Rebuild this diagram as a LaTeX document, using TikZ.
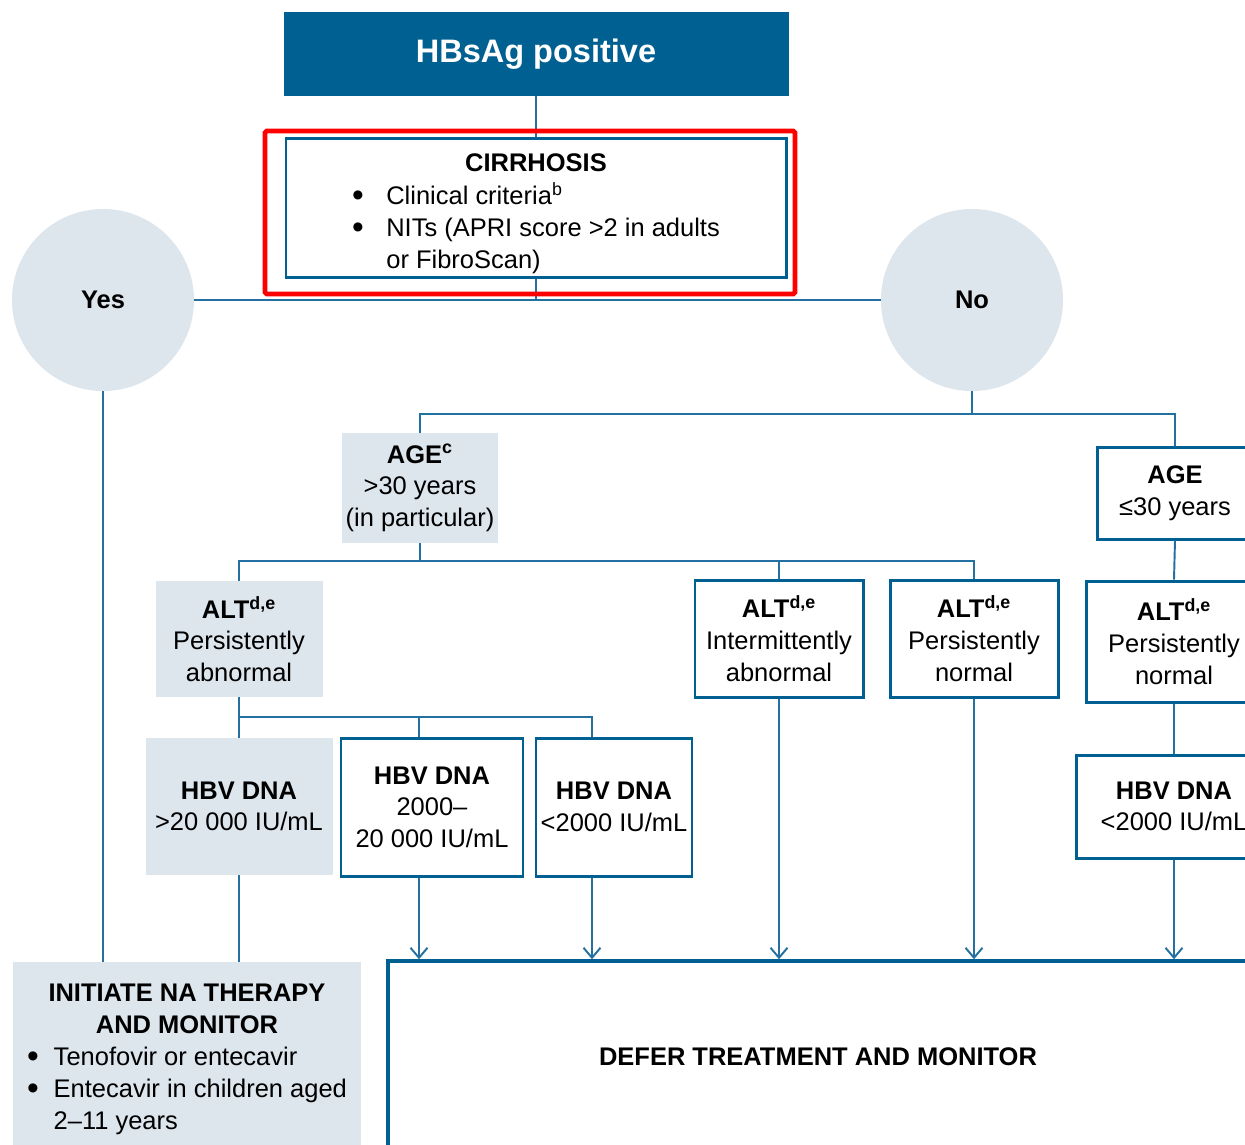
\documentclass[tikz,border=0pt]{standalone}
\usepackage{fontspec}
\setmainfont{Liberation Sans}
\usetikzlibrary{arrows.meta}
\definecolor{whoblue}{RGB}{0,96,145}
\definecolor{whoshade}{RGB}{221,229,237}
\definecolor{wholine}{RGB}{36,112,160}
\newcommand{\bigbul}{\raisebox{-1pt}{\fontsize{19}{18}\selectfont\textbullet}}

\begin{document}
\begin{tikzpicture}[font=\fontsize{14.5}{18}\selectfont]
    % Define styles
    \tikzset{
        headbox/.style={rectangle, fill=whoblue, text=white, font=\fontsize{18.5}{22}\selectfont\bfseries, minimum width=10.1cm, minimum height=1.68cm},
        shadebox/.style={rectangle, fill=whoshade, align=center, inner sep=0pt},
        framebox/.style={rectangle, draw=whoblue, line width=1.7pt, fill=white, align=center, inner sep=0pt},
        answer/.style={circle, fill=whoshade, minimum size=3.64cm, font=\fontsize{14.5}{18}\selectfont\bfseries},
        link/.style={draw=wholine, line width=1.1pt},
        arrow/.style={link, -{Straight Barb[length=0.2cm, width=0.34cm]}},
    }

    \fill[white] (0,0) rectangle (24.9,-22.88);
    \useasboundingbox (0,0) rectangle (24.9,-22.88);

    % Top
    \node[headbox] (hbsag) at (10.72,-1.08) {HBsAg positive};
    \node[framebox, minimum width=10cm, minimum height=2.72cm] (cirr) at (10.72,-4.16) {\rule{0pt}{19pt}\textbf{CIRRHOSIS}\\[5pt]
        \begin{tabular}{@{}l@{\hspace{0.45cm}}l@{}}
        \bigbul & Clinical criteria\textsuperscript{b}\\
        \bigbul & NITs (APRI score >2 in adults\\
                & or FibroScan)
        \end{tabular}};

    % Yes / No
    \node[answer] (yes) at (2.06,-6.0) {Yes};
    \node[answer] (no) at (19.44,-6.0) {No};

    % Age
    \node[shadebox, minimum width=3.12cm, minimum height=2.2cm] (age1) at (8.4,-9.76) {\textbf{AGE\textsuperscript{c}}\\>30 years\\(in particular)};
    \node[framebox, minimum width=3.12cm, minimum height=1.84cm] (age2) at (23.5,-9.86) {\textbf{AGE}\\≤30 years};

    % ALT
    \node[shadebox, minimum width=3.34cm, minimum height=2.32cm] (alt1) at (4.78,-12.78) {\textbf{ALT\textsuperscript{d,e}}\\Persistently\\abnormal};
    \node[framebox, minimum width=3.36cm, minimum height=2.34cm] (alt2) at (15.58,-12.77) {\textbf{ALT\textsuperscript{d,e}}\\Intermittently\\abnormal};
    \node[framebox, minimum width=3.36cm, minimum height=2.34cm] (alt3) at (19.48,-12.77) {\textbf{ALT\textsuperscript{d,e}}\\Persistently\\normal};
    \node[framebox, minimum width=3.52cm, minimum height=2.42cm] (alt4) at (23.48,-12.83) {\textbf{ALT\textsuperscript{d,e}}\\Persistently\\normal};

    % HBV DNA
    \node[shadebox, minimum width=3.74cm, minimum height=2.74cm] (hbv1) at (4.78,-16.13) {\textbf{HBV DNA}\\>20 000 IU/mL};
    \node[framebox, minimum width=3.64cm, minimum height=2.76cm] (hbv2) at (8.64,-16.14) {\textbf{HBV DNA}\\2000–\\20 000 IU/mL};
    \node[framebox, minimum width=3.12cm, minimum height=2.76cm] (hbv3) at (12.28,-16.14) {\textbf{HBV DNA}\\<2000 IU/mL};
    \node[framebox, minimum width=3.92cm, minimum height=2.06cm] (hbv4) at (23.48,-16.13) {\textbf{HBV DNA}\\<2000 IU/mL};

    % Outcomes
    \node[shadebox, minimum width=6.96cm, minimum height=3.76cm] (treat) at (3.74,-21.12) {\rule{0pt}{16pt}\textbf{INITIATE NA THERAPY}\\\textbf{AND MONITOR}\\[5pt]
        \begin{tabular}{@{}l@{\hspace{0.3cm}}l@{}}
        \bigbul & Tenofovir or entecavir\\
        \bigbul & Entecavir in children aged\\
                & 2–11 years
        \end{tabular}};
    \node[framebox, line width=2pt, minimum width=17.2cm, minimum height=3.84cm, font=\fontsize{14.5}{18}\selectfont\bfseries] (defer) at (16.36,-21.14) {DEFER TREATMENT AND MONITOR};

    % Connectors
    \draw[link] (hbsag.south) -- (cirr.north);
    \draw[link] (yes.east) -- (no.west);
    \draw[link] (cirr.south) -- (cirr.south |- yes.east);

    \coordinate (nojoin) at ([yshift=-0.46cm]no.south);
    \draw[link] (no.south) -- (nojoin);
    \draw[link] (age1.north) |- (nojoin) -| (age2.north);

    \coordinate (agejoin) at ([yshift=-0.36cm]age1.south);
    \draw[link] (age1.south) -- (agejoin);
    \draw[link] (alt1.north) |- (agejoin) -| (alt3.north);
    \draw[link] (alt2.north) -- (alt2.north |- agejoin);
    \draw[link] (age2.south) -- (alt4.north);
    \draw[link] (alt4.south) -- (hbv4.north);

    \coordinate (altjoin) at ([yshift=-0.4cm]alt1.south);
    \coordinate (hbv2top) at ([xshift=-0.26cm]hbv2.north);
    \coordinate (hbv2bot) at ([xshift=-0.26cm]hbv2.south);
    \coordinate (hbv3top) at ([xshift=-0.44cm]hbv3.north);
    \coordinate (hbv3bot) at ([xshift=-0.44cm]hbv3.south);
    \draw[link] (alt1.south) -- (altjoin);
    \draw[link] (hbv1.north) |- (altjoin) -| (hbv3top);
    \draw[link] (hbv2top) -- (hbv2top |- altjoin);

    % Arrows into defer
    \draw[arrow] (hbv2bot) -- (hbv2bot |- defer.north);
    \draw[arrow] (hbv3bot) -- (hbv3bot |- defer.north);
    \draw[arrow] (alt2.south) -- (alt2.south |- defer.north);
    \draw[arrow] (alt3.south) -- (alt3.south |- defer.north);
    \draw[arrow] (hbv4.south) -- (hbv4.south |- defer.north);

    % Yes branch
    \draw[link] (yes.south) -- (yes.south |- treat.north);
    \draw[link] (hbv1.south) -- (hbv1.south |- treat.north);

    % Highlight
    \draw[red, line width=2.8pt, rounded corners=1pt] (5.3,-2.62) rectangle (15.9,-5.88);
\end{tikzpicture}
\end{document}
